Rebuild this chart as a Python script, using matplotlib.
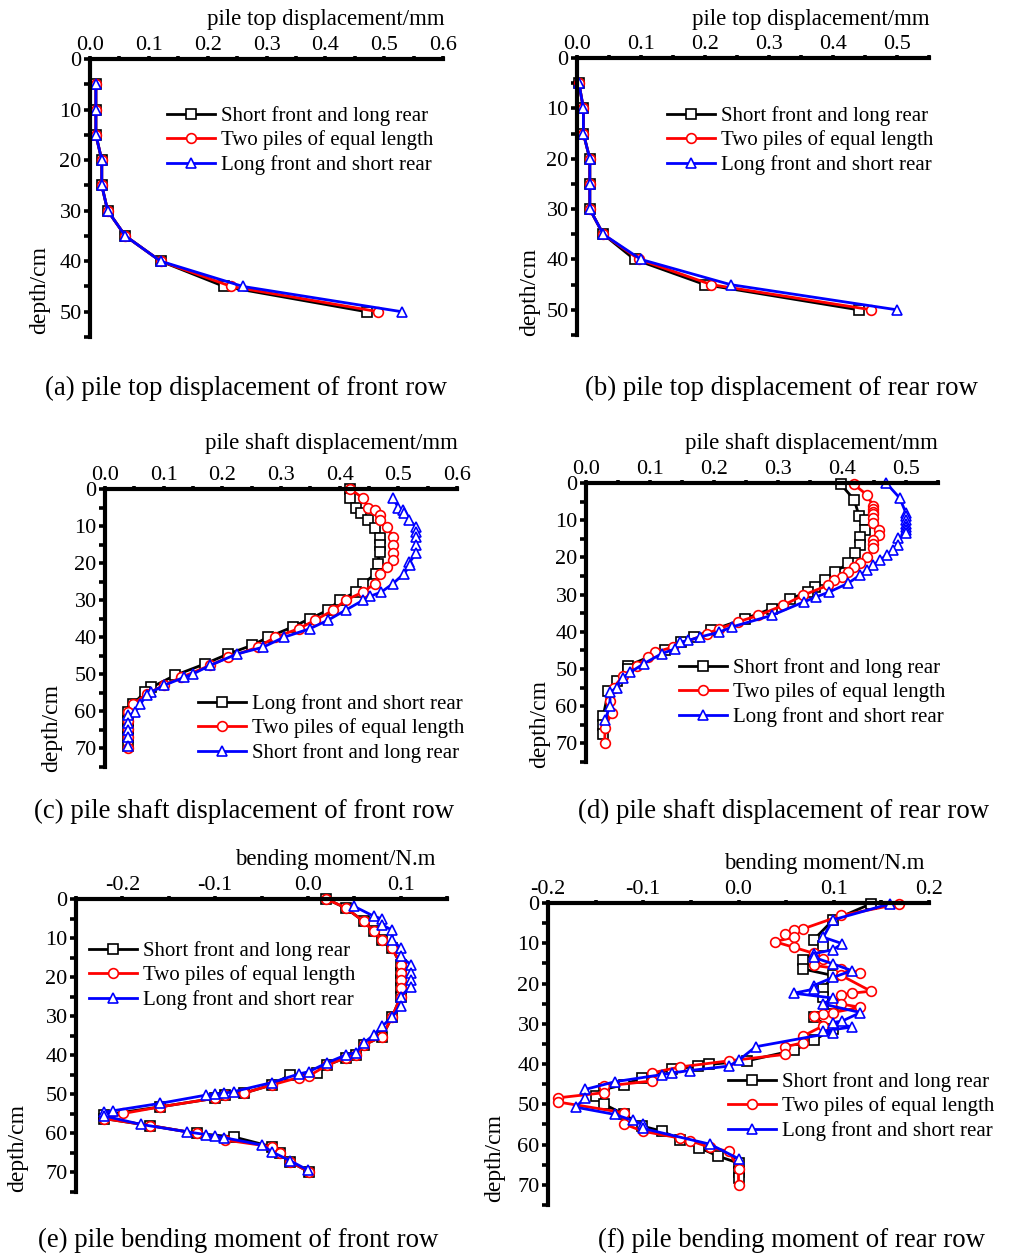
import matplotlib
matplotlib.use('Agg')
import matplotlib.pyplot as plt
from matplotlib.ticker import MultipleLocator, FormatStrFormatter

plt.rcParams['font.family'] = ['Liberation Serif', 'DejaVu Serif']
plt.rcParams['axes.unicode_minus'] = False

# ---------------- data ----------------
LBL_SFLR = "Short front and long rear"
LBL_EQ = "Two piles of equal length"
LBL_LFSR = "Long front and short rear"

# (a) pile top displacement, front row
a_depth = [5, 10, 15, 20, 25, 30, 35, 40, 45, 50]
a_sflr = [0.01, 0.01, 0.01, 0.02, 0.02, 0.03, 0.06, 0.12, 0.228, 0.47]
a_equal = [0.01, 0.01, 0.01, 0.02, 0.02, 0.03, 0.06, 0.12, 0.24, 0.49]
a_lfsr = [0.01, 0.01, 0.01, 0.02, 0.02, 0.03, 0.06, 0.12, 0.26, 0.53]

# (b) pile top displacement, rear row
b_depth = [5, 10, 15, 20, 25, 30, 35, 40, 45, 50]
b_sflr = [0.003, 0.01, 0.01, 0.02, 0.02, 0.02, 0.041, 0.09, 0.2, 0.44]
b_equal = [0.003, 0.01, 0.01, 0.02, 0.02, 0.02, 0.041, 0.097, 0.21, 0.46]
b_lfsr = [0.003, 0.01, 0.01, 0.02, 0.02, 0.02, 0.041, 0.1, 0.24, 0.5]

# (c) pile shaft displacement, front row
c_black_d = [0, 2.5, 5.2, 6.6, 8.4, 10.6, 13.3, 15.1, 17, 20.1, 22.8, 25.5, 27.8, 30, 32.7,
             35, 37.2, 40, 42.2, 44.5, 47.2, 50.3, 53.5, 54.8, 58, 60.2, 62.5, 64.7, 67, 69.2]
c_black_v = [0.418, 0.418, 0.427, 0.437, 0.448, 0.46, 0.468, 0.468, 0.468, 0.465, 0.462, 0.44,
             0.428, 0.40, 0.38, 0.349, 0.32, 0.278, 0.25, 0.21, 0.17, 0.119, 0.079, 0.068,
             0.048, 0.04, 0.04, 0.04, 0.04, 0.04]
c_red_d = [0, 2.5, 5, 5.7, 7, 8.4, 10.2, 12.9, 15.1, 17.4, 19.2, 21, 22.8, 25.5, 27.8, 30,
           32.7, 35.4, 37.7, 40, 42.7, 45.4, 47.6, 50.8, 53, 55.3, 58, 60.2, 62.5, 64.7, 67, 70]
c_red_v = [0.418, 0.44, 0.448, 0.46, 0.468, 0.468, 0.48, 0.491, 0.491, 0.491, 0.491, 0.48,
           0.468, 0.46, 0.44, 0.41, 0.389, 0.358, 0.33, 0.29, 0.26, 0.21, 0.179, 0.13, 0.1,
           0.071, 0.048, 0.04, 0.04, 0.04, 0.04, 0.04]
c_blue_d = [2.5, 5, 5.7, 6.6, 8.4, 10.2, 11.5, 12.9, 15.1, 17.4, 19.8, 20.6, 22.8, 25.5, 27.8,
            29, 30, 32.7, 35.4, 37.7, 40, 42.7, 44.5, 47.6, 49.9, 50.8, 53, 54.8, 55.7, 58,
            60.2, 61.1, 63, 65, 67, 69.2]
c_blue_v = [0.491, 0.5, 0.508, 0.51, 0.519, 0.53, 0.53, 0.53, 0.53, 0.53, 0.519, 0.52, 0.51,
            0.491, 0.471, 0.451, 0.44, 0.41, 0.38, 0.349, 0.305, 0.269, 0.225, 0.179, 0.15,
            0.135, 0.1, 0.079, 0.071, 0.06, 0.051, 0.04, 0.04, 0.04, 0.04, 0.04]

# (d) pile shaft displacement, rear row
d_black_d = [0.3, 4.5, 9, 9.9, 12.6, 14.4, 16.7, 18.9, 21.6, 23.9, 26.1, 27.9, 29.3, 31.1,
             33.8, 36.5, 39.6, 41.4, 42.8, 45, 49.1, 50, 53.2, 55.9, 62.6, 65, 67.6]
d_black_v = [0.398, 0.419, 0.427, 0.436, 0.436, 0.428, 0.428, 0.42, 0.41, 0.389, 0.373, 0.358,
             0.347, 0.319, 0.29, 0.248, 0.196, 0.168, 0.149, 0.123, 0.066, 0.066, 0.048, 0.035,
             0.027, 0.027, 0.027]
d_red_d = [0.3, 3.2, 6.3, 7, 7.7, 8.4, 9.5, 10.8, 12.6, 14, 15.2, 16.3, 17.4, 19.8, 21.6, 22.5,
           23.9, 25.2, 26.1, 27.5, 30.2, 32.9, 35.6, 37.3, 39.2, 40.5, 44.1, 45.5, 46.8, 49.1,
           51.8, 55, 58.6, 61.7, 65.8, 69.8]
d_red_v = [0.418, 0.439, 0.449, 0.449, 0.449, 0.449, 0.449, 0.449, 0.458, 0.458, 0.449, 0.449,
           0.449, 0.439, 0.428, 0.419, 0.409, 0.4, 0.388, 0.378, 0.339, 0.308, 0.269, 0.238,
           0.208, 0.189, 0.136, 0.108, 0.097, 0.079, 0.058, 0.043, 0.0375, 0.04, 0.03, 0.029]
d_blue_d = [0, 4, 8.1, 9, 10, 11, 11.8, 12.6, 13.5, 14.9, 16.7, 18, 19.4, 20.7, 22.1, 23.4,
            24.8, 27, 29.3, 30.6, 32, 35.6, 38.7, 40.1, 41.4, 42.3, 42.8, 44.6, 45.9, 48.6,
            50.9, 52.3, 55, 56.3, 59.9, 63.6]
d_blue_v = [0.469, 0.49, 0.5, 0.5, 0.5, 0.5, 0.5, 0.5, 0.5, 0.488, 0.488, 0.48, 0.47, 0.459,
            0.449, 0.439, 0.428, 0.409, 0.38, 0.36, 0.34, 0.29, 0.228, 0.208, 0.178, 0.16,
            0.147, 0.139, 0.118, 0.09, 0.069, 0.058, 0.048, 0.0375, 0.0375, 0.03]

# (e) bending moment, front row
e_black_d = [0, 2.3, 5.7, 8.3, 10.4, 12.6, 16.8, 19, 20.7, 22.8, 25, 30.1, 35.2, 37.4, 40.0,
             40.6, 42.5, 44.6, 45.0, 47.6, 49.7, 50.2, 51, 53.2, 55.3, 56.2, 58, 60, 60.9,
             63.4, 65.1, 67.3, 69.8]
e_black_v = [0.02, 0.041, 0.06, 0.071, 0.08, 0.091, 0.1, 0.1, 0.1, 0.1, 0.1, 0.091, 0.08,
             0.06, 0.052, 0.041, 0.021, 0.01, -0.019, -0.039, -0.069, -0.089, -0.1, -0.159,
             -0.22, -0.22, -0.17, -0.12, -0.08, -0.039, -0.03, -0.019, 0.001]
e_red_d = [0, 2.3, 5.7, 8.3, 10.4, 12.6, 16.8, 19, 20.7, 22.8, 25, 30.1, 35.2, 37.4, 40.0,
           40.6, 42.5, 45.3, 45.7, 47.6, 49.7, 50.2, 51, 53.2, 54.9, 56.2, 58, 60, 61.7, 63.4,
           65.1, 67.3, 69.8]
e_red_v = [0.02, 0.041, 0.06, 0.071, 0.08, 0.091, 0.1, 0.1, 0.1, 0.1, 0.1, 0.091, 0.08, 0.06,
           0.052, 0.041, 0.021, 0.001, -0.01, -0.039, -0.069, -0.089, -0.1, -0.159, -0.199,
           -0.22, -0.17, -0.12, -0.089, -0.039, -0.03, -0.019, 0.001]
e_blue_d = [1.9, 4.4, 5.1, 6.6, 8, 10.4, 12.6, 14.7, 16.8, 19, 20.7, 22.4, 25, 27.5, 30.1,
            32.6, 34.8, 36.9, 39.3, 39.9, 41.9, 44.2, 44.8, 47, 49.3, 49.7, 49.9, 50.2, 52.3,
            54.2, 54.6, 55.5, 57.7, 59.6, 60.3, 60.7, 61.1, 63, 64.7, 67, 69.4]
e_blue_v = [0.05, 0.071, 0.08, 0.08, 0.091, 0.091, 0.1, 0.1, 0.111, 0.111, 0.111, 0.111, 0.1,
            0.1, 0.091, 0.08, 0.071, 0.06, 0.052, 0.041, 0.021, 0.001, -0.01, -0.039, -0.08,
            -0.09, -0.1, -0.11, -0.159, -0.21, -0.22, -0.22, -0.18, -0.13, -0.11, -0.1, -0.09,
            -0.049, -0.039, -0.019, 0]

# (f) bending moment, rear row
f_black_d = [0.2, 4.3, 9.1, 10.8, 14.1, 16.4, 18, 21.4, 23.4, 25.1, 28.4, 31.3, 34.1, 36.6,
             39.2, 40.1, 40.5, 41.3, 43.4, 45.1, 46.3, 48, 50, 52.5, 55.4, 56.7, 58.8, 60.8,
             62.9, 64.6, 66.7, 68.3]
f_black_v = [0.139, 0.099, 0.079, 0.089, 0.068, 0.068, 0.099, 0.089, 0.089, 0.099, 0.079,
             0.099, 0.079, 0.058, 0.009, -0.031, -0.042, -0.07, -0.101, -0.12, -0.141, -0.15,
             -0.141, -0.12, -0.101, -0.08, -0.061, -0.041, -0.021, 0, 0, 0]
f_red_d = [0.2, 3.1, 6.4, 6.8, 7.6, 8.5, 9.6, 11, 12.5, 13.9, 15.5, 16.4, 17.3, 18, 21.9, 22.4,
           22.8, 25.1, 25.9, 27.2, 27.6, 28, 30.5, 33, 34.7, 35.7, 37.6, 39.2, 40.7, 42.2, 44.2,
           45.5, 47.1, 48.4, 49.4, 52.1, 54.9, 56.7, 58.4, 59, 60.7, 61.7, 66, 70]
f_red_v = [0.169, 0.108, 0.068, 0.058, 0.049, 0.058, 0.038, 0.058, 0.079, 0.089, 0.079, 0.108,
           0.128, 0.108, 0.139, 0.119, 0.108, 0.108, 0.128, 0.099, 0.089, 0.079, 0.089, 0.068,
           0.068, 0.049, 0.049, -0.01, -0.061, -0.091, -0.091, -0.141, -0.141, -0.19, -0.19,
           -0.12, -0.12, -0.1, -0.061, -0.051, -0.03, -0.01, 0, 0]
f_blue_d = [0.2, 4.2, 8.5, 10.1, 11.6, 12.6, 13.5, 15.1, 16.8, 18.5, 20.5, 21.4, 22.4, 23.6,
            25.1, 27.2, 29.3, 29.7, 30.8, 31.8, 32.2, 35.7, 39.1, 40.5, 41.6, 42.2, 42.6, 44.4,
            46.3, 48.4, 50.7, 52.5, 54, 55, 56, 59.9, 63.5]
f_blue_v = [0.159, 0.099, 0.089, 0.109, 0.099, 0.079, 0.079, 0.099, 0.119, 0.099, 0.079, 0.079,
            0.058, 0.099, 0.089, 0.128, 0.109, 0.099, 0.119, 0.089, 0.099, 0.018, 0, -0.01,
            -0.051, -0.07, -0.08, -0.13, -0.161, -0.161, -0.171, -0.13, -0.111, -0.1, -0.1,
            -0.03, 0]

# ---------------- figure ----------------
W, H = 1019, 1257
fig = plt.figure(figsize=(W / 100, H / 100), dpi=100)

def fx(x):
    return x / W

def fy(y):
    return 1 - y / H

def add_ax(left, top, right, bottom):
    return fig.add_axes([fx(left), fy(bottom), (right - left) / W, (bottom - top) / H])

SER = {
    'k': dict(color='black', marker='s', ms=6.5),
    'r': dict(color='red', marker='o', ms=7),
    'b': dict(color='blue', marker='^', ms=7.5),
}

def draw(ax, key, d, v, label):
    st = SER[key]
    ax.plot(v, d, color=st['color'], marker=st['marker'], lw=2.0, ms=st['ms'],
            mfc='white', mec=st['color'], mew=1.2, label=label, clip_on=False)

def style(ax, xlim, ylim):
    ax.set_xlim(*xlim)
    ax.set_ylim(ylim, 0)
    ax.xaxis.tick_top()
    for s in ('right', 'bottom'):
        ax.spines[s].set_visible(False)
    for s in ('left', 'top'):
        ax.spines[s].set_linewidth(3.0)
        ax.spines[s].set_capstyle('projecting')
    ax.xaxis.set_major_locator(MultipleLocator(0.1))
    ax.xaxis.set_minor_locator(MultipleLocator(0.05))
    ax.yaxis.set_major_locator(MultipleLocator(10))
    ax.yaxis.set_minor_locator(MultipleLocator(5))
    ax.xaxis.set_major_formatter(FormatStrFormatter('%.1f'))
    ax.tick_params(axis='x', which='both', direction='out', length=2.5, width=2.6,
                   labelsize=16, pad=0.5)
    ax.tick_params(axis='y', which='both', direction='out', length=4, width=2.6,
                   labelsize=16, pad=2)
    ax.patch.set_alpha(0)

def legend(ax, x, y):
    ax.legend(loc='upper left', bbox_to_anchor=(fx(x), fy(y)), bbox_transform=fig.transFigure,
              frameon=False, fontsize=15, handlelength=2.3, handletextpad=0.3,
              labelspacing=0.22, borderpad=0, borderaxespad=0)

def ftext(x, y, s, size=16.5, rot=0, ha='center'):
    fig.text(fx(x), fy(y), s, fontsize=size, rotation=rot, ha=ha, va='center')

CAP = 19.4
YL = 17

# (a)
ax = add_ax(90, 59, 443, 337)
draw(ax, 'k', a_depth, a_sflr, LBL_SFLR)
draw(ax, 'r', a_depth, a_equal, LBL_EQ)
draw(ax, 'b', a_depth, a_lfsr, LBL_LFSR)
style(ax, (0, 0.6), 55)
legend(ax, 167, 106)
ftext(326, 20, 'pile top displacement/mm')
ftext(40, 290, 'depth/cm', size=YL, rot=90)
ftext(246, 388, '(a) pile top displacement of front row', size=CAP)

# (b)
ax = add_ax(577, 58, 929, 335)
draw(ax, 'k', b_depth, b_sflr, LBL_SFLR)
draw(ax, 'r', b_depth, b_equal, LBL_EQ)
draw(ax, 'b', b_depth, b_lfsr, LBL_LFSR)
style(ax, (0, 0.55), 55)
legend(ax, 667, 106)
ftext(811, 20, 'pile top displacement/mm')
ftext(530, 292, 'depth/cm', size=YL, rot=90)
ftext(781, 388, '(b) pile top displacement of rear row', size=CAP)

# (c)
ax = add_ax(105, 489, 457, 767)
draw(ax, 'k', c_black_d, c_black_v, LBL_LFSR)
draw(ax, 'r', c_red_d, c_red_v, LBL_EQ)
draw(ax, 'b', c_blue_d, c_blue_v, LBL_SFLR)
style(ax, (0, 0.6), 75)
legend(ax, 198, 694)
ftext(331, 443, 'pile shaft displacement/mm')
ftext(52, 728, 'depth/cm', size=YL, rot=90)
ftext(244, 811, '(c) pile shaft displacement of front row', size=CAP)

# (d)
ax = add_ax(586, 483, 938, 762)
draw(ax, 'k', d_black_d, d_black_v, LBL_SFLR)
draw(ax, 'r', d_red_d, d_red_v, LBL_EQ)
draw(ax, 'b', d_blue_d, d_blue_v, LBL_LFSR)
style(ax, (0, 0.55), 75)
legend(ax, 679, 658)
ftext(811, 443, 'pile shaft displacement/mm')
ftext(540, 724, 'depth/cm', size=YL, rot=90)
ftext(784, 811, '(d) pile shaft displacement of rear row', size=CAP)

# (e)
ax = add_ax(76, 899, 447, 1192)
draw(ax, 'k', e_black_d, e_black_v, LBL_SFLR)
draw(ax, 'r', e_red_d, e_red_v, LBL_EQ)
draw(ax, 'b', e_blue_d, e_blue_v, LBL_LFSR)
style(ax, (-0.25, 0.15), 75)
legend(ax, 89, 941)
ftext(335, 859, 'bending moment/N.m')
ftext(18, 1148, 'depth/cm', size=YL, rot=90)
ftext(238, 1240, '(e) pile bending moment of front row', size=CAP)

# (f)
ax = add_ax(548, 903, 929, 1205)
draw(ax, 'k', f_black_d, f_black_v, LBL_SFLR)
draw(ax, 'r', f_red_d, f_red_v, LBL_EQ)
draw(ax, 'b', f_blue_d, f_blue_v, LBL_LFSR)
style(ax, (-0.2, 0.2), 75)
legend(ax, 728, 1072)
ftext(824, 863, 'bending moment/N.m')
ftext(495, 1158, 'depth/cm', size=YL, rot=90)
ftext(791, 1240, '(f) pile bending moment of rear row', size=CAP)

fig.savefig('out.png', dpi=100)
